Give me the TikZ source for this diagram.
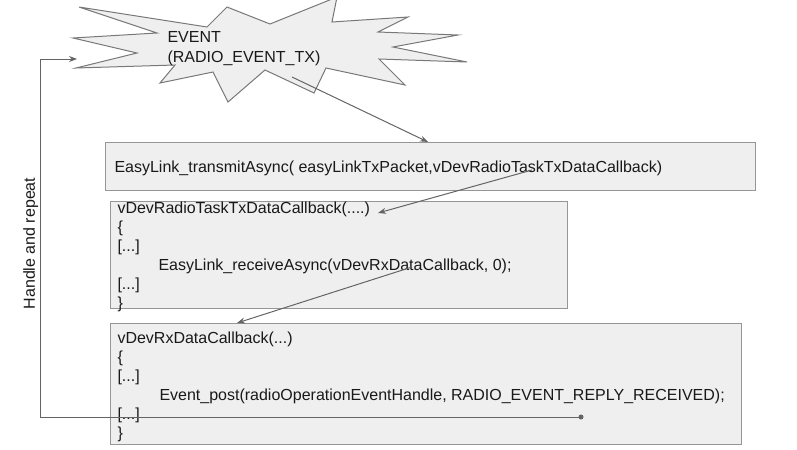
\documentclass[tikz,border=0pt]{standalone}
\usepackage{fontspec}
\setmainfont{Liberation Sans}
\usetikzlibrary{arrows.meta}

\definecolor{boxfill}{RGB}{239,239,239}
\definecolor{boxline}{RGB}{150,150,150}
\definecolor{starline}{RGB}{120,120,120}
\definecolor{linkline}{RGB}{100,100,100}
\definecolor{codetext}{RGB}{25,25,25}

\tikzset{every picture/.style={line width=0.75pt}}
\tikzset{
  codebox/.style={draw=boxline, fill=boxfill, inner sep=0pt, outer sep=0pt},
  codeline/.style={anchor=base west, inner sep=0pt, text=codetext, font=\fontsize{12}{14.4}\selectfont},
  flowarrow/.style={draw=linkline, -{Stealth[length=6pt,width=4.5pt]}},
}

\begin{document}
\begin{tikzpicture}[x=0.75pt,y=0.75pt,yscale=-1,xscale=1]
\useasboundingbox (0,0) rectangle (797,450);

%Shape: Explosion [id:event]
\draw [draw=starline, fill=boxfill] (79,7) -- (207,27) -- (227,7) -- (270,24) -- (337,-3) -- (332,22) -- (408,17) -- (378,32) -- (458,35) -- (393,47) -- (467,62) -- (379,59) -- (405,85) -- (326,68) -- (314,93) -- (265,70) -- (228,102) -- (213,72) -- (160,83) -- (175,65) -- (76,68) -- (137,53) -- (73,38) -- (157,33) -- cycle ;

%Shape: Rectangle [id:txbox]
\node [codebox, minimum width=650*0.75pt, minimum height=48*0.75pt] (txbox) at (430,166) {};
%Shape: Rectangle [id:txcbbox]
\node [codebox, minimum width=457*0.75pt, minimum height=107*0.75pt] (txcbbox) at (338.5,254.5) {};
%Shape: Rectangle [id:rxcbbox]
\node [codebox, minimum width=631*0.75pt, minimum height=121*0.75pt] (rxcbbox) at (425.5,383.5) {};

% Text Node
\node [codeline] (evtname) at (167,42) {EVENT};
% Text Node
\node [codeline] (evtid) at (167,62) {(RADIO\_EVENT\_TX)};
% Text Node
\node [codeline] (txcall) at (114,172) {EasyLink\_transmitAsync( easyLinkTxPacket,vDevRadioTaskTxDataCallback)};
% Text Node
\node [codeline] (txcbhead) at (117,213) {vDevRadioTaskTxDataCallback(....)};
\node [codeline] (txcbopen) at (117,232) {\{};
\node [codeline] (txcbskipa) at (117,251) {[...]};
\node [codeline] (rxcall) at (158,270) {EasyLink\_receiveAsync(vDevRxDataCallback, 0);};
\node [codeline] (txcbskipb) at (117,289) {[...]};
\node [codeline] (txcbclose) at (117,308) {\}};
% Text Node
\node [codeline] (rxcbhead) at (117,343) {vDevRxDataCallback(...)};
\node [codeline] (rxcbopen) at (117,362) {\{};
\node [codeline] (rxcbskipa) at (117,381) {[...]};
\node [codeline] (postcall) at (159,400) {Event\_post(radioOperationEventHandle, RADIO\_EVENT\_REPLY\_RECEIVED);};
\node [codeline] (rxcbskipb) at (117,419) {[...]};
\node [codeline] (rxcbclose) at (117,438) {\}};
% Text Node
\node [codeline, anchor=base, rotate=90] (looplabel) at (35,243.5) {Handle and repeat};

% connector ends
\coordinate (evtout) at (292,77);
\coordinate (txin) at (428,142);
\coordinate (txout) at (532,170);
\coordinate (txcbin) at (378,213);
\coordinate (rxout) at (412,267);
\coordinate (rxcbin) at (237,323);
\coordinate (loopstart) at (581,417);
\coordinate (loopend) at (77,59);

%Straight Lines
\draw [flowarrow] (evtout) -- (txin);
\draw [flowarrow] (txout) -- (txcbin);
\draw [flowarrow] (rxout) -- (rxcbin);
%Loop back
\draw [flowarrow] (loopstart) -- (40,417) -- (40,59) -- (loopend);
\fill [linkline] (loopstart) circle (2.5);

\end{tikzpicture}
\end{document}
